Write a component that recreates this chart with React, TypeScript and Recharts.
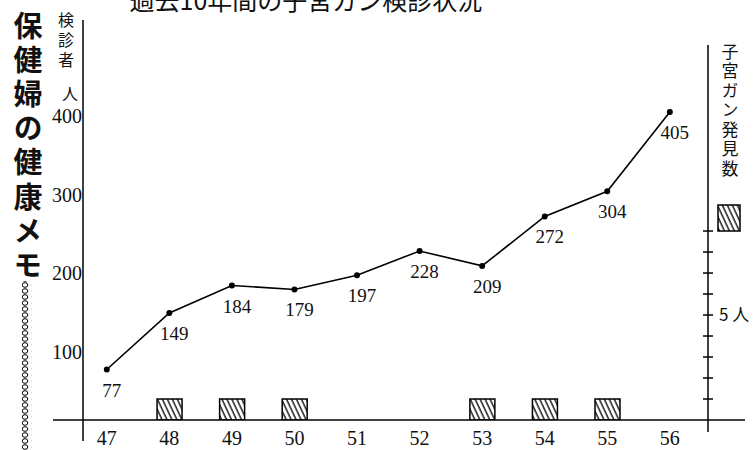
import {
  ComposedChart,
  Line,
  Bar,
  XAxis,
  YAxis,
  LabelList
} from 'recharts';

// 昭和47〜56年
const years = [47, 48, 49, 50, 51, 52, 53, 54, 55, 56];
// 検診者 (人)
const examinees = [77, 149, 184, 179, 197, 228, 209, 272, 304, 405];
// 子宮ガン発見数 (人)
const cancerFound = [0, 1, 1, 1, 0, 0, 1, 1, 1, 0];

const leftTicks = [100, 200, 300, 400];
const rightTicks = [1, 2, 3, 4, 5, 6, 7, 8, 9];

const title = '過去10年間の子宮ガン検診状況';
const sideTitle = '保健婦の健康メモ';
const leftUnit = '検診者';
const rightUnit = '子宮ガン発見数';

const data = years.map((year, i) => ({
  year,
  examinees: examinees[i],
  cancer: cancerFound[i]
}));

const SERIF = '"Liberation Serif", "DejaVu Serif", serif';
const SANS = '"Noto Sans CJK JP", "Noto Sans", sans-serif';

const RightTick = (props: any) => {
  const { x, y, payload } = props;
  return (
    <g>
      <line x1={x - 5} x2={x + 5} y1={y} y2={y} stroke="#000" strokeWidth={1.5} />
      {payload.value === 5 && (
        <text x={x + 11} y={y + 6} fontFamily={SANS} fontSize={17} fill="#111">
          5 人
        </text>
      )}
    </g>
  );
};

const PointLabel = (props: any) => {
  const { x, y, value } = props;
  return (
    <text
      x={x + 5}
      y={y + 27}
      textAnchor="middle"
      fontFamily={SERIF}
      fontSize={19}
      fill="#111"
    >
      {value}
    </text>
  );
};

// 縦書きテキスト
const VText = ({ x, y, size, gap, weight, children }: any) => (
  <text
    x={x}
    y={y}
    fontFamily={SANS}
    fontSize={size}
    fontWeight={weight || 400}
    fill="#111"
    style={{ writingMode: 'vertical-rl', letterSpacing: gap }}
  >
    {children}
  </text>
);

export default function App() {
  return (
    <div
      style={{
        position: 'absolute',
        left: 0,
        top: 0,
        width: 755,
        height: 450,
        background: '#fff'
      }}
    >
      <ComposedChart
        width={755}
        height={450}
        data={data}
        margin={{ top: 45, right: 0, bottom: 0, left: 0 }}
      >
        <defs>
          <pattern
            id="hatch"
            width="4.5"
            height="10"
            patternUnits="userSpaceOnUse"
            patternTransform="rotate(-25)"
          >
            <line x1="1" y1="0" x2="1" y2="10" stroke="#000" strokeWidth={1.3} />
          </pattern>
        </defs>
        <XAxis
          dataKey="year"
          type="number"
          domain={[46.62, 56.61]}
          ticks={years}
          interval={0}
          allowDataOverflow
          height={30}
          tickLine={false}
          tickSize={0}
          tickMargin={11}
          axisLine={{ stroke: '#000', strokeWidth: 1.5 }}
          tick={{ fontFamily: SERIF, fontSize: 20, fill: '#111' }}
        />
        <YAxis
          yAxisId="l"
          width={83}
          domain={[12.7, 490.4]}
          ticks={leftTicks}
          interval={0}
          allowDataOverflow
          tickLine={false}
          tickSize={0}
          tickMargin={1}
          axisLine={{ stroke: '#000', strokeWidth: 1.5 }}
          tick={{ fontFamily: SERIF, fontSize: 20, fill: '#111' }}
        />
        <YAxis
          yAxisId="r"
          orientation="right"
          width={47}
          domain={[0, 17.86]}
          ticks={rightTicks}
          interval={0}
          allowDataOverflow
          tickLine={false}
          tickSize={0}
          tickMargin={0}
          axisLine={{ stroke: '#000', strokeWidth: 1.5 }}
          tick={<RightTick />}
        />
        <Bar
          yAxisId="r"
          dataKey="cancer"
          barSize={25}
          fill="url(#hatch)"
          stroke="#000"
          strokeWidth={1.5}
          isAnimationActive={false}
        />
        <Line
          yAxisId="l"
          dataKey="examinees"
          stroke="#000"
          strokeWidth={1.6}
          dot={{ r: 2.2, fill: '#000', stroke: '#000' }}
          isAnimationActive={false}
        >
          <LabelList dataKey="examinees" content={<PointLabel />} />
        </Line>
      </ComposedChart>

      <svg
        width={755}
        height={450}
        style={{ position: 'absolute', left: 0, top: 0, pointerEvents: 'none' }}
      >
        <defs>
          <pattern id="hatch2" width="4.5" height="10" patternUnits="userSpaceOnUse" patternTransform="rotate(-25)">
            <line x1="1" y1="0" x2="1" y2="10" stroke="#000" strokeWidth={1.3} />
          </pattern>
          <pattern id="chain" width="10" height="6" patternUnits="userSpaceOnUse">
            <ellipse cx="5" cy="3" rx="2.8" ry="2.3" fill="none" stroke="#000" strokeWidth={1} />
          </pattern>
        </defs>

        <text x={306} y={10} textAnchor="middle" fontFamily={SANS} fontSize={25} fill="#111">
          {title}
        </text>

        <VText x={28} y={11} size={29} gap={5.2} weight={700}>
          {sideTitle}
        </VText>
        <rect x={22} y={281} width={10} height={169} fill="url(#chain)" />

        <VText x={66} y={12} size={16} gap={4}>
          {leftUnit}
        </VText>
        <text x={70} y={100} textAnchor="middle" fontFamily={SANS} fontSize={16} fill="#111">
          人
        </text>

        <VText x={730} y={43} size={17} gap={2.5}>
          {rightUnit}
        </VText>
        <rect x={718} y={205} width={22} height={26} fill="url(#hatch2)" stroke="#000" strokeWidth={1.5} />

        <line x1={83} x2={83} y1={20} y2={45} stroke="#000" strokeWidth={1.5} />
        <line x1={83} x2={83} y1={420} y2={441} stroke="#000" strokeWidth={1.5} />
        <line x1={708} x2={708} y1={420} y2={432} stroke="#000" strokeWidth={1.5} />
        <line x1={53} x2={83} y1={420} y2={420} stroke="#000" strokeWidth={1.5} />
        <line x1={708} x2={745} y1={420} y2={420} stroke="#000" strokeWidth={1.5} />
      </svg>
    </div>
  );
}
